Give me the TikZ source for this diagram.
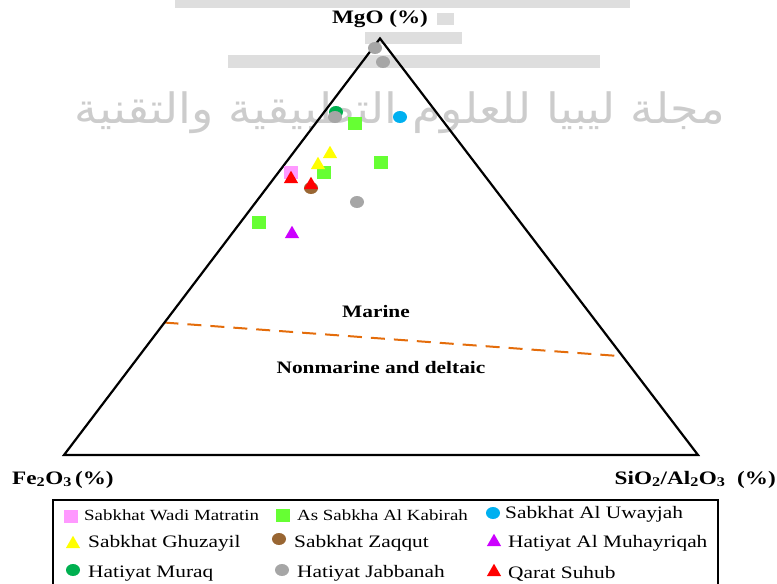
\documentclass[tikz,border=0pt]{standalone}
\usepackage{fontspec}
\setmainfont{Liberation Serif}[FakeStretch=1.22]
\newfontfamily\arabicfont[Script=Arabic]{DejaVu Sans}
\TeXXeTstate=1
\usetikzlibrary{calc, shapes.geometric}

\definecolor{sitepink}{HTML}{FF99FF}
\definecolor{sitelime}{HTML}{66FF33}
\definecolor{siteblue}{HTML}{00B0F0}
\definecolor{siteyellow}{HTML}{FFFF00}
\definecolor{sitebrown}{HTML}{996633}
\definecolor{sitepurple}{HTML}{CC00FF}
\definecolor{siteteal}{HTML}{00B050}
\definecolor{sitegrey}{HTML}{A6A6A6}
\definecolor{sitered}{HTML}{FF0000}
\definecolor{dashorange}{HTML}{E46C0A}

\begin{document}
\begin{tikzpicture}[x=1pt, y=-1pt,
    axis/.style={line width=2.2pt, line join=miter},
    divide/.style={draw=dashorange, line width=2pt, dash pattern=on 14pt off 9pt},
    title/.style={font=\fontsize{19}{22}\selectfont\bfseries, inner sep=0pt},
    field/.style={font=\fontsize{17.5}{20}\selectfont\bfseries, inner sep=0pt, anchor=base},
    entry/.style={font=\fontsize{17.5}{20}\selectfont, inner sep=0pt, anchor=base west},
    small entry/.style={entry, font=\fontsize{15.5}{18}\selectfont},
    sqmark/.style={rectangle, minimum width=14pt, minimum height=13pt, inner sep=0pt, fill=#1},
    dotmark/.style={ellipse, minimum width=14pt, minimum height=12pt, inner sep=0pt, fill=#1},
    trimark/.style={regular polygon, regular polygon sides=3, minimum size=16.5pt, inner sep=0pt, fill=#1},
    wmark/.style={fill=black!13}
]
    \useasboundingbox (0,0) rectangle (777,584);

    % faded watermark
    \fill[wmark] (175,0) rectangle (630,8);
    \fill[wmark] (437,13) rectangle (454,25);
    \fill[wmark] (365,32) rectangle (462,44);
    \fill[wmark] (228,55) rectangle (600,68);
    \node[text=black!20, inner sep=0pt] (journal) at (400,113)
        {\resizebox*{650pt}{42pt}{\arabicfont\beginR مجلة ليبيا للعلوم التطبيقية والتقنية\endR}};

    % ternary frame
    \coordinate (top) at (380,38.5);
    \coordinate (left) at (64,455);
    \coordinate (right) at (698,455);
    \coordinate (divl) at ($(top)!0.682!(left)$);
    \coordinate (divr) at ($(top)!0.763!(right)$);
    \draw[divide] (divl) -- (divr);
    \draw[axis] (top) -- (left) -- (right) -- cycle;

    \node[title, anchor=base] (mgo) at (380,23) {MgO (\%)};
    \node[title, anchor=base west] (fe) at (12,484) {Fe\textsubscript{2}O\textsubscript{3}\,(\%)};
    \node[title, anchor=base east] (sial) at (776,484) {SiO\textsubscript{2}/Al\textsubscript{2}O\textsubscript{3}~~(\%)};
    \node[field] (marine) at (376,317) {Marine};
    \node[field] (nonmarine) at (381,373) {Nonmarine and deltaic};

    % samples
    \node[sqmark=sitepink] (wadi1) at (291,172) {};
    \node[sqmark=sitelime] (kab1) at (355,123) {};
    \node[sqmark=sitelime] (kab2) at (381,162) {};
    \node[sqmark=sitelime] (kab3) at (324,172) {};
    \node[sqmark=sitelime] (kab4) at (259,222) {};
    \node[trimark=siteyellow] (ghu1) at (330,154) {};
    \node[trimark=siteyellow] (ghu2) at (318,165) {};
    \node[dotmark=siteblue] (uway1) at (400,117) {};
    \node[dotmark=sitebrown] (zaq1) at (311,188) {};
    \node[trimark=sitepurple] (muh1) at (292,234) {};
    \node[dotmark=siteteal] (mur1) at (336,112) {};
    \node[dotmark=sitegrey] (jab1) at (375,48) {};
    \node[dotmark=sitegrey] (jab2) at (383,62) {};
    \node[dotmark=sitegrey] (jab3) at (335,117) {};
    \node[dotmark=sitegrey] (jab4) at (357,202) {};
    \node[trimark=sitered] (suh1) at (291,179) {};
    \node[trimark=sitered] (suh2) at (311,185) {};

    % legend
    \draw[line width=2.5pt] (53,500) rectangle (718,610);
    \node[sqmark=sitepink] (kwadi) at (71,516) {};
    \node[small entry] (lwadi) at (84,520) {Sabkhat Wadi Matratin};
    \node[sqmark=sitelime] (kkab) at (283,515) {};
    \node[small entry] (lkab) at (297,520) {As Sabkha Al Kabirah};
    \node[dotmark=siteblue] (kuway) at (493,513) {};
    \node[entry] (luway) at (505,518) {Sabkhat Al Uwayjah};
    \node[trimark=siteyellow] (kghu) at (73,544) {};
    \node[entry] (lghu) at (88,547) {Sabkhat Ghuzayil};
    \node[dotmark=sitebrown] (kzaq) at (279,539) {};
    \node[entry] (lzaq) at (294,547) {Sabkhat Zaqqut};
    \node[trimark=sitepurple] (kmuh) at (494,542) {};
    \node[entry] (lmuh) at (508,547) {Hatiyat Al Muhayriqah};
    \node[dotmark=siteteal] (kmur) at (73,570) {};
    \node[entry] (lmur) at (88,577) {Hatiyat Muraq};
    \node[dotmark=sitegrey] (kjab) at (282,570) {};
    \node[entry] (ljab) at (297,577) {Hatiyat Jabbanah};
    \node[trimark=sitered] (ksuh) at (494,572) {};
    \node[entry] (lsuh) at (508,578) {Qarat Suhub};
\end{tikzpicture}
\end{document}
